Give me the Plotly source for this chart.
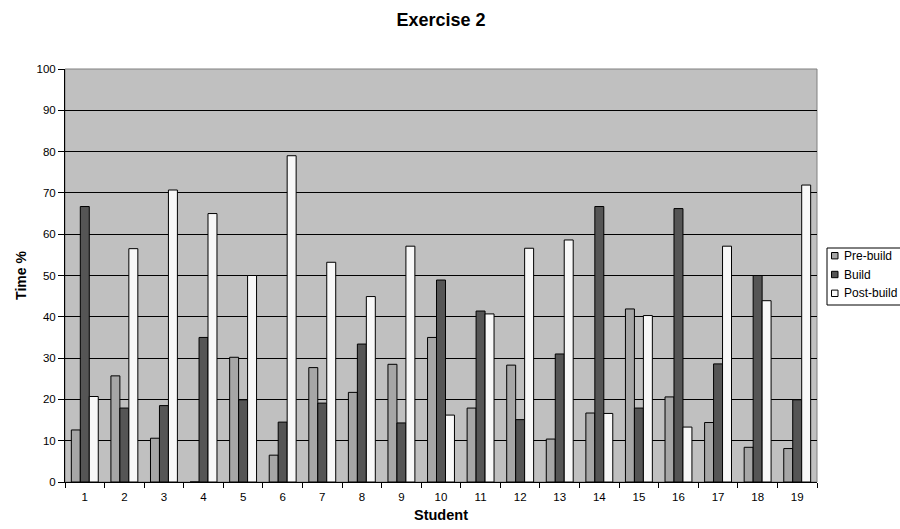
import plotly.graph_objects as go

students = [str(i) for i in range(1, 20)]
pre_build = [12.6, 25.7, 10.6, 0, 30.2, 6.5, 27.7, 21.7, 28.5, 35.0,
             17.9, 28.3, 10.4, 16.7, 41.9, 20.6, 14.4, 8.4, 8.1]
build = [66.7, 17.9, 18.5, 35.0, 19.9, 14.5, 19.1, 33.4, 14.3, 48.9,
         41.4, 15.1, 31.0, 66.7, 17.9, 66.2, 28.6, 50.0, 19.9]
post_build = [20.7, 56.5, 70.7, 65.0, 50.0, 79.0, 53.2, 44.9, 57.1, 16.2,
              40.7, 56.6, 58.6, 16.6, 40.3, 13.3, 57.1, 43.9, 71.9]

series_names = ["Pre-build", "Build", "Post-build"]
series_values = [pre_build, build, post_build]
series_colors = ["#A6A6A6", "#555555", "#F8F8F8"]

font_family = "Liberation Sans, Arial, sans-serif"

W, H = 900, 529
M_L, M_R, M_T, M_B = 65, 83, 69, 47
PW, PH = W - M_L - M_R, H - M_T - M_B


def px_x(x):
    """Pixel column -> paper x."""
    return (x - M_L) / PW


def px_y(y):
    """Pixel row -> paper y."""
    return (H - M_B - y) / PH


fig = go.Figure()
for name, vals, color in zip(series_names, series_values, series_colors):
    fig.add_trace(go.Bar(
        x=students, y=vals, name=name, showlegend=False,
        marker=dict(color=color, line=dict(color="#000000", width=1)),
    ))

# Plot-area frame, then a boxed key to the right of the plot
shapes = [dict(type="rect", xref="x domain", yref="y domain",
               x0=0, x1=1, y0=0, y1=1,
               line=dict(color="#808080", width=1), layer="below")]
annotations = []
shapes.append(dict(type="rect", xref="paper", yref="paper",
                   x0=px_x(827), x1=px_x(906), y0=px_y(305), y1=px_y(248),
                   line=dict(color="#000000", width=1), fillcolor="#FFFFFF"))
key_rows = [255.7, 274.5, 293.3]
for name, color, cy in zip(series_names, series_colors, key_rows):
    shapes.append(dict(type="rect", xref="paper", yref="paper",
                       x0=px_x(831.5), x1=px_x(838), y0=px_y(cy + 3.2),
                       y1=px_y(cy - 3.2),
                       line=dict(color="#000000", width=1), fillcolor=color))
    annotations.append(dict(text=name, xref="paper", yref="paper",
                            x=px_x(842), y=px_y(cy), xanchor="left",
                            yanchor="middle", showarrow=False,
                            font=dict(size=12, family=font_family)))

fig.update_layout(
    width=W, height=H,
    margin=dict(l=M_L, r=M_R, t=M_T, b=M_B, autoexpand=False),
    paper_bgcolor="#FFFFFF",
    plot_bgcolor="#C0C0C0",
    barmode="group",
    bargap=0.32,
    bargroupgap=0,
    showlegend=False,
    font=dict(family=font_family, size=11.5, color="#000000"),
    title=dict(text="<b>Exercise 2</b>", x=(M_L + PW / 2) / W, xanchor="center",
               y=1 - 20 / H, yanchor="middle",
               font=dict(size=18, family=font_family)),
    shapes=shapes,
    annotations=annotations,
)

fig.update_xaxes(
    type="category", tickson="boundaries", ticks="outside", ticklen=5,
    tickcolor="#000000", showline=True, linecolor="#000000", linewidth=1,
    showgrid=False, ticklabelstandoff=4, automargin=False,
    title=dict(text="<b>Student</b>", font=dict(size=14.5), standoff=8),
)
fig.update_yaxes(
    range=[0, 100], dtick=10, ticks="outside", ticklen=6,
    tickcolor="#000000", showline=True, linecolor="#000000", linewidth=1,
    showgrid=True, gridcolor="#000000", gridwidth=1, zeroline=False,
    automargin=False,
    title=dict(text="<b>Time %</b>", font=dict(size=14), standoff=6),
)

fig.write_html("out.html")
